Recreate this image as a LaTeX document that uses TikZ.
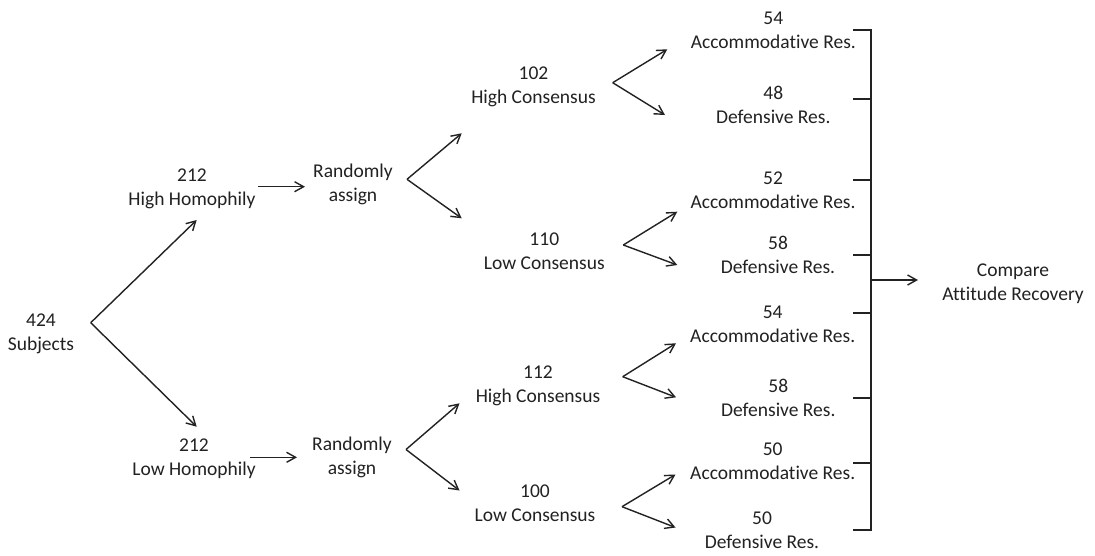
\documentclass[tikz,border=0pt]{standalone}
\usepackage{fontspec}
\setmainfont[Ligatures=NoCommon]{Carlito}
\usetikzlibrary{arrows.meta}
\definecolor{ink}{HTML}{222222}
\tikzset{
  lbl/.style={align=center, inner sep=0pt, text=ink,
    font=\fontsize{19.5}{24}\selectfont},
  flow/.style={draw=ink, line width=1.4pt,
    -{Straight Barb[length=9pt,width=10pt,line width=1.4pt]}},
  brk/.style={draw=ink, line width=1.4pt}
}
\begin{document}
\begin{tikzpicture}[x=1pt,y=-1pt]
\useasboundingbox[fill=white] (0,0) rectangle (1095,555);

% stage labels
\node[lbl] (subj) at (41,334) {424\\Subjects};
\node[lbl] (hh) at (192,189) {212\\High Homophily};
\node[lbl] (lh) at (194,459) {212\\Low Homophily};
\node[lbl] (r1) at (353,184.5) {Randomly\\assign};
\node[lbl] (r2) at (352,457.7) {Randomly\\assign};
\node[lbl] (hc1) at (533.5,86.7) {102\\High Consensus};
\node[lbl] (lc1) at (544.3,251.7) {110\\Low Consensus};
\node[lbl] (hc2) at (538,386) {112\\High Consensus};
\node[lbl] (lc2) at (535,503.3) {100\\Low Consensus};
\node[lbl] (a1) at (773.3,30.3) {54\\Accommodative Res.};
\node[lbl] (d1) at (773.3,105.3) {48\\Defensive Res.};
\node[lbl] (a2) at (773,190) {52\\Accommodative Res.};
\node[lbl] (d2) at (778,255) {58\\Defensive Res.};
\node[lbl] (a3) at (772.7,324) {54\\Accommodative Res.};
\node[lbl] (d3) at (778.3,398.3) {58\\Defensive Res.};
\node[lbl] (a4) at (772.7,461.3) {50\\Accommodative Res.};
\node[lbl] (d4) at (762,530) {50\\Defensive Res.};
\node[lbl] (cmp) at (1013,284) {Compare\\Attitude Recovery};

% fork points and arrow ends
\coordinate (f0) at (90.7,322.7);
\coordinate (f0u) at (196.7,220);
\coordinate (f0d) at (196.7,426.7);
\coordinate (h1s) at (258,186.7);
\coordinate (h1e) at (305,186.7);
\coordinate (h2s) at (250,457.3);
\coordinate (h2e) at (297,457.3);
\coordinate (f1) at (407,179.3);
\coordinate (f1u) at (461.7,133.3);
\coordinate (f1d) at (461.7,218.3);
\coordinate (f2) at (406,449.5);
\coordinate (f2u) at (459.5,403.3);
\coordinate (f2d) at (459.5,490.5);
\coordinate (f3) at (612.7,82.7);
\coordinate (f3u) at (667.3,49.3);
\coordinate (f3d) at (665,115);
\coordinate (f4) at (623.3,245);
\coordinate (f4u) at (677.3,211.7);
\coordinate (f4d) at (677.3,265);
\coordinate (f5) at (622.7,376.7);
\coordinate (f5u) at (676,343.3);
\coordinate (f5d) at (676,397.3);
\coordinate (f6) at (622,506.7);
\coordinate (f6u) at (675.5,474.5);
\coordinate (f6d) at (675.5,527.5);

% forks
\draw[flow] (f0) -- (f0u);
\draw[flow] (f0) -- (f0d);
\draw[flow] (h1s) -- (h1e);
\draw[flow] (h2s) -- (h2e);
\draw[flow] (f1) -- (f1u);
\draw[flow] (f1) -- (f1d);
\draw[flow] (f2) -- (f2u);
\draw[flow] (f2) -- (f2d);
\draw[flow] (f3) -- (f3u);
\draw[flow] (f3) -- (f3d);
\draw[flow] (f4) -- (f4u);
\draw[flow] (f4) -- (f4d);
\draw[flow] (f5) -- (f5u);
\draw[flow] (f5) -- (f5d);
\draw[flow] (f6) -- (f6u);
\draw[flow] (f6) -- (f6d);

% collecting bracket
\coordinate (bt) at (871,30);
\coordinate (bb) at (871,530);
\coordinate (bo) at (871,280);
\coordinate (bend) at (918,280);
\draw[brk] (853,30) -- (bt) -- (bb) -- (853,530);
\foreach \y in {99,180,255,313,398,463}
  \draw[brk] (853,\y) -- (871,\y);
\draw[flow] (bo) -- (bend);
\end{tikzpicture}
\end{document}
